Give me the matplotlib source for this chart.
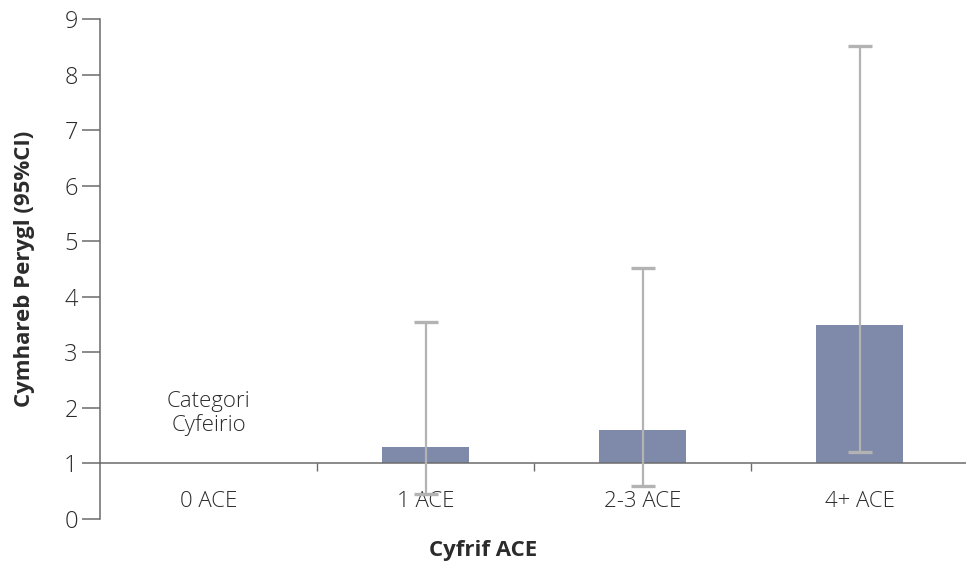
import matplotlib
matplotlib.use("Agg")
import matplotlib.pyplot as plt
import numpy as np

# Hazard ratios by ACE count, with 95% confidence interval
categories = ["0 ACE", "1 ACE", "2-3 ACE", "4+ ACE"]
ratio = [1.0, 1.3, 1.6, 3.5]
ci_low = [np.nan, 0.45, 0.6, 1.2]
ci_high = [np.nan, 3.55, 4.52, 8.52]
yticks = [0, 1, 2, 3, 4, 5, 6, 7, 8, 9]

plt.rcParams['font.family'] = ['Open Sans', 'DejaVu Sans']
text_col = '#2b2b2b'
axis_col = '#6b6b6b'
bar_col = '#7f89aa'
err_col = '#b3b3b3'

fig = plt.figure(figsize=(9.66, 5.61), dpi=100)
ax = fig.add_axes([0.1035, 0.0749, 0.899, 0.891])

x = np.arange(len(categories))
ratio = np.array(ratio)
lo = np.array(ci_low)
hi = np.array(ci_high)

# bars grow from the reference line at 1
ax.bar(x, ratio - 1, bottom=1, width=0.4, color=bar_col, linewidth=0, zorder=2)

has_ci = ~np.isnan(lo)
ax.errorbar(x[has_ci], ratio[has_ci],
            yerr=[ratio[has_ci] - lo[has_ci], hi[has_ci] - ratio[has_ci]],
            fmt='none', ecolor=err_col, elinewidth=1.6, capsize=8.5,
            capthick=2.4, zorder=3)

ax.set_xlim(-0.5, len(categories) - 0.5)
ax.set_ylim(0, 9)

for side in ['top', 'right']:
    ax.spines[side].set_visible(False)
ax.spines['bottom'].set_position(('data', 1))
ax.spines['bottom'].set_color(axis_col)
ax.spines['left'].set_color(axis_col)
ax.spines['bottom'].set_linewidth(1.1)
ax.spines['left'].set_linewidth(1.1)

ax.set_yticks(yticks)
ax.tick_params(axis='y', length=13, width=1.1, color=axis_col, pad=3,
               labelsize=17, labelcolor=text_col)
for lab in ax.get_yticklabels():
    lab.set_fontweight('light')

# category names sit below the reference line, ticks mark the boundaries
ax.set_xticks(x)
ax.set_xticklabels(categories, fontweight='light')
ax.tick_params(axis='x', which='major', length=0, pad=20,
               labelsize=16, labelcolor=text_col)
ax.set_xticks(x[:-1] + 0.5, minor=True)
ax.tick_params(axis='x', which='minor', length=6, width=1, color=axis_col,
               direction='out')

ax.text(0, 1.9, "Categori\nCyfeirio", ha='center', va='center',
        fontsize=16, fontweight='light', color=text_col, linespacing=1.15)

ax.set_ylabel("Cymhareb Perygl (95%CI)", fontsize=16, fontweight='bold',
              color=text_col, labelpad=21)
fig.text(0.5, 0.018, "Cyfrif ACE", ha='center', va='center',
         fontsize=16, fontweight='bold', color=text_col)

fig.savefig("out.png", dpi=100)
